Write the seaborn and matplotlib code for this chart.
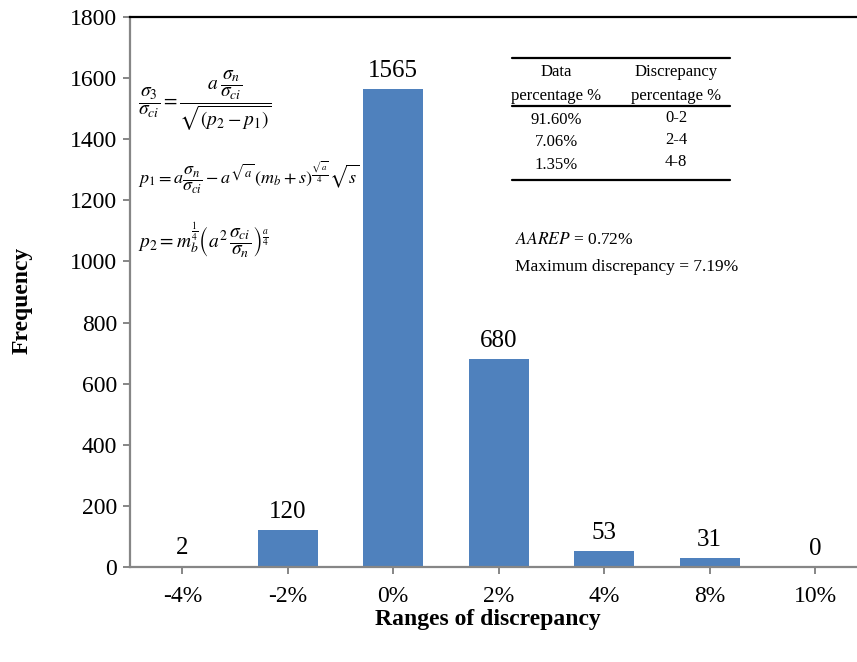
import matplotlib
matplotlib.use("Agg")
import matplotlib.pyplot as plt
import seaborn as sns
import pandas as pd
from matplotlib.lines import Line2D

categories = ["-4%", "-2%", "0%", "2%", "4%", "8%", "10%"]
frequency = [2, 120, 1565, 680, 53, 31, 0]
yticks = [0, 200, 400, 600, 800, 1000, 1200, 1400, 1600, 1800]

table_header = [("Data", "percentage %"), ("Discrepancy", "percentage %")]
data_pct = ["91.60%", "7.06%", "1.35%"]
disc_pct = ["0-2", "2-4", "4-8"]

sns.set_style("white")
plt.rcParams["font.family"] = ["Liberation Serif", "DejaVu Serif"]
plt.rcParams["mathtext.fontset"] = "stix"
plt.rcParams["text.color"] = "black"
plt.rcParams["xtick.color"] = "black"
plt.rcParams["ytick.color"] = "black"

W, H = 857, 662
fig = plt.figure(figsize=(W / 100, H / 100), dpi=100)
fx = lambda x: x / W
fy = lambda y: 1 - y / H

left, right, top, bottom = 129.5, 868, 17, 567
ax = fig.add_axes([fx(left), fy(bottom), fx(right) - fx(left), fy(top) - fy(bottom)])

df = pd.DataFrame({"range": categories, "freq": frequency})
sns.barplot(data=df, x="range", y="freq", color="#4F81BD", saturation=1,
            width=0.57, ax=ax, edgecolor="none")
ax.set_xlim(-0.5, 6.5)
ax.set_ylim(0, 1800)
ax.set_yticks(yticks)
ax.set_yticklabels([str(t) for t in yticks])

for i, v in enumerate(frequency):
    ax.annotate(str(v), (i, v), xytext=(0, 5), textcoords="offset points",
                ha="center", va="bottom", fontsize=18, color="black")

for s in ["left", "bottom"]:
    ax.spines[s].set_color("#868686")
    ax.spines[s].set_linewidth(1.6)
ax.spines["top"].set_color("black")
ax.spines["top"].set_linewidth(1.6)
ax.spines["right"].set_visible(False)
ax.tick_params(axis="both", which="major", direction="out", length=5, width=1.4,
               color="#868686", labelcolor="black", labelsize=17, pad=4,
               left=True, bottom=True)
ax.tick_params(axis="x", pad=9)

ax.set_xlabel("")
ax.set_ylabel("")
fig.text(fx(488), fy(619), "Ranges of discrepancy", fontsize=17, fontweight="bold",
         ha="center", va="center")
fig.text(fx(22), fy(300), "Frequency", fontsize=17, fontweight="bold",
         ha="center", va="center", rotation=90)

# formulas
fig.text(fx(138), fy(101),
         r"$\dfrac{\sigma_3}{\sigma_{ci}}=\dfrac{a\,\dfrac{\sigma_n}{\sigma_{ci}}}{\sqrt{(p_2-p_1)}}$",
         fontsize=14, ha="left", va="center")
fig.text(fx(138), fy(178),
         r"$p_1=a\dfrac{\sigma_n}{\sigma_{ci}}-a^{\sqrt{a}}\,(m_b+s)^{\frac{\sqrt{a}}{4}}\sqrt{s}$",
         fontsize=13, ha="left", va="center")
fig.text(fx(138), fy(241),
         r"$p_2=m_b^{\frac{1}{4}}\left(a^2\,\dfrac{\sigma_{ci}}{\sigma_n}\right)^{\frac{a}{4}}$",
         fontsize=14, ha="left", va="center")

# table
for yy in [58, 106, 180]:
    fig.add_artist(Line2D([fx(512), fx(730)], [fy(yy), fy(yy)], color="black",
                          lw=1.6, transform=fig.transFigure))
cols = [556, 676]
for cx, (h1, h2) in zip(cols, table_header):
    fig.text(fx(cx), fy(72), h1, fontsize=12, ha="center", va="center")
    fig.text(fx(cx), fy(96), h2, fontsize=12, ha="center", va="center")
for j, (a, b) in enumerate(zip(data_pct, disc_pct)):
    fig.text(fx(556), fy(120 + 22.5 * j), a, fontsize=12, ha="center", va="center")
    fig.text(fx(676), fy(118 + 22 * j), b, fontsize=12, ha="center", va="center")

fig.text(fx(515), fy(240), r"$\mathit{AAREP}$ = 0.72%", fontsize=12.5, ha="left", va="center")
fig.text(fx(515), fy(267), "Maximum discrepancy = 7.19%", fontsize=12.5, ha="left", va="center")

fig.savefig("out.png", dpi=100)
